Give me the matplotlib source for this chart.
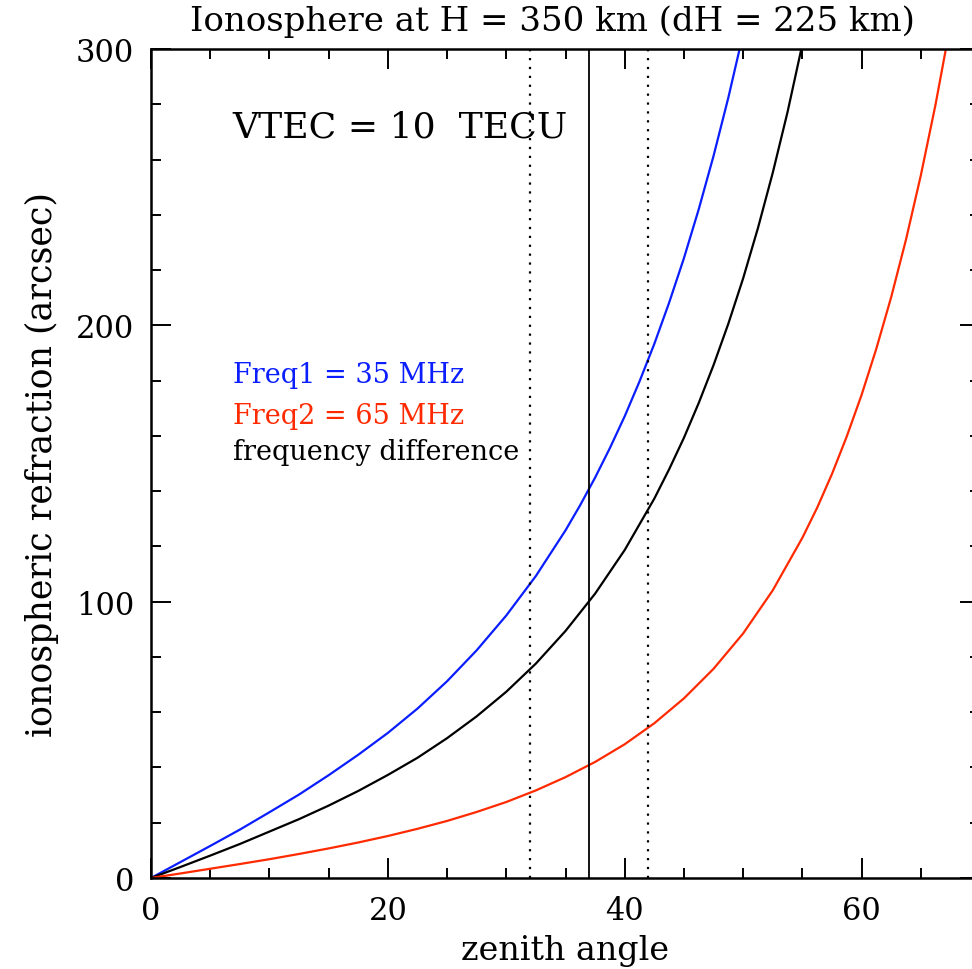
import numpy as np
import matplotlib
matplotlib.use("Agg")
import matplotlib.pyplot as plt
from matplotlib.ticker import MultipleLocator

# values: zenith angle (deg) -> refraction (arcsec)
za_f1 = [0, 2.5, 5, 7.5, 10, 12.5, 15, 17.5, 20, 22.5, 25, 27.5, 30, 32.5,
         35, 36.25, 37.5, 38.75, 40, 41.25, 42.5, 43.75, 45, 46.25, 47.5,
         48.75, 50]
refr_f1 = [0, 5.8, 11.6, 17.5, 23.8, 30.2, 37.2, 44.6, 52.5, 61.3, 71.2, 82.4,
           95.0, 109.3, 125.8, 135.0, 144.9, 155.6, 167.1, 179.7, 193.3, 208.2,
           224.3, 242.0, 261.3, 282.4, 305.5]

za_f2 = [0, 2.5, 5, 7.5, 10, 12.5, 15, 17.5, 20, 22.5, 25, 27.5, 30, 32.5,
         35, 37.5, 40, 42.5, 45, 47.5, 50, 52.5, 55, 56.25, 57.5, 58.75, 60,
         61.25, 62.5, 63.75, 65, 66.25, 67.5]
refr_f2 = [0, 1.65, 3.35, 5.05, 6.8, 8.7, 10.7, 12.85, 15.2, 17.8, 20.65, 23.9,
           27.5, 31.7, 36.5, 42.0, 48.4, 56.0, 65.0, 75.7, 88.5, 104.1, 123.1,
           134.0, 146.2, 159.8, 174.8, 191.6, 210.2, 231.0, 254.2, 280.0, 308.8]

za_diff = [0, 2.5, 5, 7.5, 10, 12.5, 15, 17.5, 20, 22.5, 25, 27.5, 30, 32.5,
           35, 37.5, 40, 42.5, 43.75, 45, 46.25, 47.5, 48.75, 50, 51.25, 52.5,
           53.75, 55]
refr_diff = [0, 4.0, 8.1, 12.3, 16.8, 21.3, 26.2, 31.5, 37.3, 43.5, 50.6, 58.5,
             67.4, 77.6, 89.4, 102.9, 118.7, 137.3, 147.9, 159.3, 171.9, 185.6,
             200.6, 217.0, 235.2, 255.2, 277.2, 301.7]

za_dotted = [32, 42]
za_solid = 37

labels = ["Freq1 = 35 MHz", "Freq2 = 65 MHz", "frequency difference"]
colors = ["#0a1eff", "#ff2a00", "black"]

plt.rcParams['font.family'] = ['DejaVu Serif']

W, H = 972, 970
fig = plt.figure(figsize=(W / 100, H / 100), dpi=100)
ax = fig.add_axes([151 / W, 1 - 879 / H, (980 - 151) / W, (879 - 50) / H])

ax.plot(za_f1, refr_f1, color=colors[0], lw=1.6)
ax.plot(za_diff, refr_diff, color=colors[2], lw=1.6)
ax.plot(za_f2, refr_f2, color=colors[1], lw=1.6)

for za in za_dotted:
    ax.axvline(za, color="black", lw=1.6, ls=(0, (1, 3)))
ax.axvline(za_solid, color="black", lw=1.3)

ax.set_xlim(0, 70)
ax.set_ylim(0, 300)
ax.xaxis.set_major_locator(MultipleLocator(20))
ax.xaxis.set_minor_locator(MultipleLocator(5))
ax.yaxis.set_major_locator(MultipleLocator(100))
ax.yaxis.set_minor_locator(MultipleLocator(20))
ax.tick_params(which="both", direction="in", top=True, right=True,
               width=1.4, labelsize=22, pad=12)
ax.tick_params(which="major", length=14.5)
ax.tick_params(which="minor", length=7)
for s in ax.spines.values():
    s.set_linewidth(1.8)

ax.set_xlabel("zenith angle", fontsize=24, labelpad=6)
ax.set_ylabel("ionospheric refraction (arcsec)", fontsize=25, labelpad=12)
fig.text(552 / W, 1 - 22 / H, "Ionosphere at H = 350 km (dH = 225 km)",
         fontsize=24.5, ha="center", va="center")

ax.text(6.9, 268.5, "VTEC = 10  TECU", fontsize=26, ha="left", va="baseline")
ax.text(6.9, 179.5, labels[0], color=colors[0], fontsize=19.5, va="baseline")
ax.text(6.9, 164.7, labels[1], color=colors[1], fontsize=19.5, va="baseline")
ax.text(6.9, 151.6, labels[2], color=colors[2], fontsize=19.5, va="baseline")

fig.savefig("out.png", dpi=100)
